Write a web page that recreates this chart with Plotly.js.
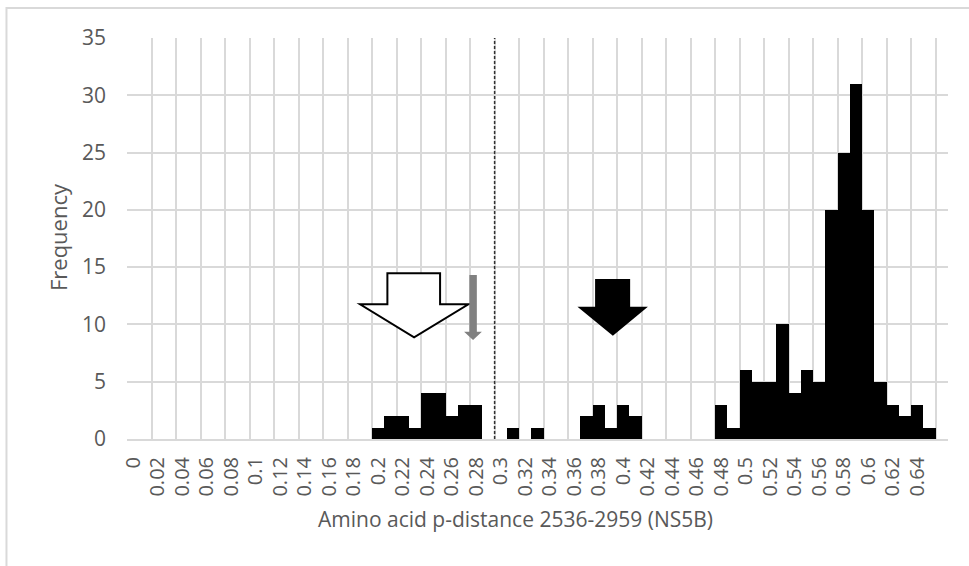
<!DOCTYPE html>
<html>
<head>
<meta charset="utf-8">
<script src="https://cdn.plot.ly/plotly-3.0.1.min.js"></script>
<style>html,body{margin:0;padding:0;background:#fff;}#chart{width:969px;height:566px;}</style>
</head>
<body>
<div id="chart"></div>
<script>
// Bin centres (p-distance), 0.00 .. 0.66
const binCenters = [0,0.01,0.02,0.03,0.04,0.05,0.06,0.07,0.08,0.09,0.10,0.11,0.12,0.13,0.14,0.15,0.16,0.17,0.18,0.19,0.20,0.21,0.22,0.23,0.24,0.25,0.26,0.27,0.28,0.29,0.30,0.31,0.32,0.33,0.34,0.35,0.36,0.37,0.38,0.39,0.40,0.41,0.42,0.43,0.44,0.45,0.46,0.47,0.48,0.49,0.50,0.51,0.52,0.53,0.54,0.55,0.56,0.57,0.58,0.59,0.60,0.61,0.62,0.63,0.64,0.65,0.66];
// Frequencies
const frequency = [0,0,0,0,0,0,0,0,0,0,0,0,0,0,0,0,0,0,0,0,1,2,2,1,4,4,2,3,3,0,0,1,0,1,0,0,0,2,3,1,3,2,0,0,0,0,0,0,3,1,6,5,5,10,4,6,5,20,25,31,20,5,3,2,3,1,0];
// Tick labels
const tickValues = [0,0.02,0.04,0.06,0.08,0.1,0.12,0.14,0.16,0.18,0.2,0.22,0.24,0.26,0.28,0.3,0.32,0.34,0.36,0.38,0.4,0.42,0.44,0.46,0.48,0.5,0.52,0.54,0.56,0.58,0.6,0.62,0.64];
const tickLabels = ["0","0.02","0.04","0.06","0.08","0.1","0.12","0.14","0.16","0.18","0.2","0.22","0.24","0.26","0.28","0.3","0.32","0.34","0.36","0.38","0.4","0.42","0.44","0.46","0.48","0.5","0.52","0.54","0.56","0.58","0.6","0.62","0.64"];
const yTickValues = [0,5,10,15,20,25,30,35];
// vertical grid at bin boundaries every 2 bins
const gridBoundaries = [-0.005,0.015,0.035,0.055,0.075,0.095,0.115,0.135,0.155,0.175,0.195,0.215,0.235,0.255,0.275,0.295,0.315,0.335,0.355,0.375,0.395,0.415,0.435,0.455,0.475,0.495,0.515,0.535,0.555,0.575,0.595,0.615,0.635,0.655];
const cutoff = 0.295;
const xTitle = 'Amino acid p-distance 2536-2959 (NS5B)';
const yTitle = 'Frequency';

const FONT = "Open Sans, Noto Sans, sans-serif";
const grid = "#d9d9d9";
const txt = "#595959";

const shapes = [];
// dashed cutoff line
shapes.push({type:'line', xref:'x', yref:'paper', x0:cutoff, x1:cutoff, y0:0, y1:1,
  line:{color:'#303030', width:1.5, dash:'3px,2px'}});
// white arrow
shapes.push({type:'path', xref:'x', yref:'y',
  path:'M0.2075,14.46 L0.2505,14.46 L0.2505,11.76 L0.2736,11.76 L0.2293,8.88 L0.1852,11.76 L0.2075,11.76 Z',
  fillcolor:'#ffffff', line:{color:'#000000', width:2}});
// gray arrow
shapes.push({type:'path', xref:'x', yref:'y',
  path:'M0.2744,14.31 L0.2805,14.31 L0.2805,9.37 L0.2846,9.37 L0.2774,8.64 L0.2701,9.37 L0.2744,9.37 Z',
  fillcolor:'#808080', line:{color:'#808080', width:0}});
// black arrow
shapes.push({type:'path', xref:'x', yref:'y',
  path:'M0.377,13.97 L0.4056,13.97 L0.4056,11.55 L0.4201,11.55 L0.3915,9.02 L0.3626,11.55 L0.377,11.55 Z',
  fillcolor:'#000000', line:{color:'#000000', width:0}});
// chart border (left and top)
shapes.push({type:'path', xref:'paper', yref:'paper',
  path:'M-0.1468,-0.32 L-0.1468,1.0748 L1.03,1.0748',
  line:{color:grid, width:2}});

const trace = {
  type:'bar', x:binCenters, y:frequency, width:0.01,
  marker:{color:'#000000', line:{width:0}}, hoverinfo:'skip'
};

const layout = {
  width:969, height:566,
  margin:{l:127, r:21, t:38, b:127},
  paper_bgcolor:'#ffffff', plot_bgcolor:'#ffffff',
  showlegend:false, bargap:0,
  font:{family:FONT, color:txt, size:17},
  xaxis:{
    range:[-0.005,0.665], tickmode:'array', tickvals:tickValues, ticktext:tickLabels,
    tickangle:-90, showgrid:false, zeroline:false, showline:true, linecolor:grid, linewidth:2,
    ticks:'', ticklabelstandoff:8, tickfont:{family:FONT, size:20, color:txt},
    minor:{tickmode:'array', tickvals:gridBoundaries, showgrid:true, gridcolor:grid, gridwidth:2, ticks:''}
  },
  yaxis:{
    range:[0,35], tickmode:'array', tickvals:yTickValues, showgrid:true, gridcolor:grid, gridwidth:2,
    zeroline:false, showline:false, ticks:'', ticklabelstandoff:20,
    tickfont:{family:FONT, size:21, color:txt}
  },
  annotations:[
    {text:xTitle, xref:'paper', yref:'paper', x:0.4726, y:-0.1995, xanchor:'center', yanchor:'middle',
     showarrow:false, font:{family:FONT, size:21, color:txt}},
    {text:yTitle, xref:'paper', yref:'paper', x:-0.084, y:0.5037, xanchor:'center', yanchor:'middle',
     textangle:-90, showarrow:false, font:{family:FONT, size:22, color:txt}}
  ],
  shapes:shapes
};

Plotly.newPlot('chart', [trace], layout, {staticPlot:true, displayModeBar:false});
</script>
</body>
</html>
